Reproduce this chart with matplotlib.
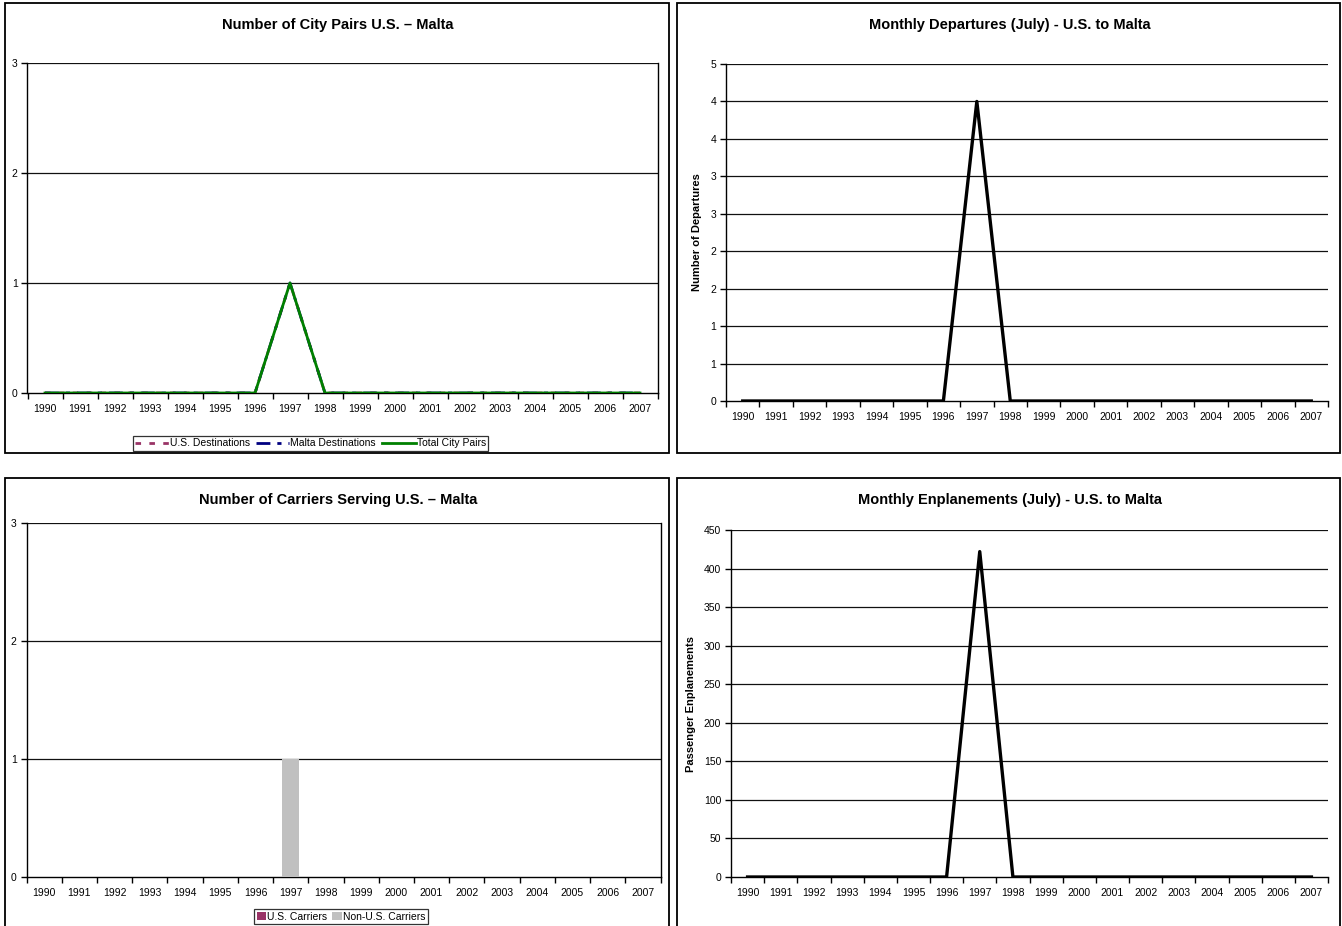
import math
import matplotlib
matplotlib.use("Agg")
import matplotlib.pyplot as plt
from matplotlib.patches import Rectangle
from matplotlib.ticker import FixedLocator, FuncFormatter

plt.rcParams['font.family'] = ['Liberation Sans', 'DejaVu Sans']

years = [str(y) for y in range(1990, 2008)]
us_destinations = [0, 0, 0, 0, 0, 0, 0, 1, 0, 0, 0, 0, 0, 0, 0, 0, 0, 0]
malta_destinations = [0, 0, 0, 0, 0, 0, 0, 1, 0, 0, 0, 0, 0, 0, 0, 0, 0, 0]
total_city_pairs = [0, 0, 0, 0, 0, 0, 0, 1, 0, 0, 0, 0, 0, 0, 0, 0, 0, 0]
departures = [0, 0, 0, 0, 0, 0, 0, 4, 0, 0, 0, 0, 0, 0, 0, 0, 0, 0]
us_carriers = [0, 0, 0, 0, 0, 0, 0, 0, 0, 0, 0, 0, 0, 0, 0, 0, 0, 0]
non_us_carriers = [0, 0, 0, 0, 0, 0, 0, 1, 0, 0, 0, 0, 0, 0, 0, 0, 0, 0]
enplanements = [0, 0, 0, 0, 0, 0, 0, 422, 0, 0, 0, 0, 0, 0, 0, 0, 0, 0]

W, H = 1342, 926
fig = plt.figure(figsize=(W / 100, H / 100), dpi=100)
fig.patch.set_facecolor('white')


def fx(x):
    return x / W


def fy(y):
    return 1 - y / H


def panel(x0, y0, x1, y1):
    fig.patches.append(Rectangle((fx(x0), fy(y1)), fx(x1) - fx(x0), fy(y0) - fy(y1),
                                 transform=fig.transFigure, fill=False,
                                 edgecolor='black', linewidth=1.3, zorder=0))


def make_axes(x0, y0, x1, y1):
    return fig.add_axes([fx(x0), fy(y1), fx(x1) - fx(x0), fy(y0) - fy(y1)])


def style(ax, ymax, ystep, right_spine=True, fmt=None):
    n = len(years)
    idx = list(range(n))
    ax.set_xlim(-0.5, n - 0.5)
    ax.set_ylim(0, ymax)
    ax.set_xticks(idx)
    ax.set_xticklabels(years, fontsize=7.5)
    ax.tick_params(axis='x', which='major', length=0, pad=8)
    ax.xaxis.set_minor_locator(FixedLocator([i - 0.5 for i in range(n + 1)]))
    ax.tick_params(axis='x', which='minor', length=4, width=1, direction='out')
    yt = []
    v = 0.0
    while v <= ymax + 1e-9:
        yt.append(v)
        v += ystep
    ax.set_yticks(yt)
    if fmt is not None:
        ax.yaxis.set_major_formatter(FuncFormatter(fmt))
    else:
        ax.yaxis.set_major_formatter(FuncFormatter(lambda v, p: f"{int(round(v))}"))
    ax.tick_params(axis='y', length=4, width=1, direction='out', labelsize=7.5, pad=3)
    for t in yt[1:]:
        ax.axhline(t, color='#111111', linewidth=0.9, zorder=0.5)
    ax.spines['top'].set_visible(False)
    ax.spines['right'].set_visible(right_spine)
    for s in ('left', 'bottom', 'right'):
        ax.spines[s].set_linewidth(1.0)
        ax.spines[s].set_color('black')
    ax.set_facecolor('white')


# panel frames
panel(5, 3, 669, 453)
panel(677, 3, 1340, 453)
panel(5, 478, 669, 940)
panel(677, 478, 1340, 940)

x = list(range(len(years)))

# --- Number of City Pairs ---
ax1 = make_axes(27.5, 63, 657.5, 393)
style(ax1, 3, 1)
h_us, = ax1.plot(x, us_destinations, color='#993366', linewidth=2, linestyle=(0, (2, 3)),
                 label='U.S. Destinations', zorder=3)
h_mt, = ax1.plot(x, malta_destinations, color='#000080', linewidth=2, linestyle=(0, (5, 2.5, 1.5, 2.5)),
                 label='Malta Destinations', zorder=4)
h_tot, = ax1.plot(x, total_city_pairs, color='#008000', linewidth=2, label='Total City Pairs', zorder=5)
fig.text(fx(338), fy(25), 'Number of City Pairs U.S. \u2013 Malta', ha='center', va='center',
         fontsize=10.5, fontweight='bold')
leg1 = fig.legend(handles=[h_us, h_mt, h_tot], loc='center', ncol=3,
                  bbox_to_anchor=(fx(310.5), fy(443.5)), fontsize=7.5, frameon=True,
                  fancybox=False, borderpad=0.25, handlelength=3.2, handletextpad=0.1,
                  columnspacing=0.6, borderaxespad=0)
leg1.get_frame().set_edgecolor('black')
leg1.get_frame().set_linewidth(0.9)

# --- Monthly Departures ---
ax2 = make_axes(726, 64, 1328, 401)
style(ax2, 4.5, 0.5, right_spine=False, fmt=lambda v, p: f"{int(math.floor(v + 0.5))}")
ax2.plot(x, departures, color='black', linewidth=2.4, zorder=3)
ax2.set_ylabel('Number of Departures', fontsize=8, fontweight='bold', labelpad=6)
fig.text(fx(1010), fy(25), 'Monthly Departures (July) - U.S. to Malta', ha='center', va='center',
         fontsize=10.5, fontweight='bold')

# --- Number of Carriers ---
ax3 = make_axes(26.5, 523, 660.5, 877)
style(ax3, 3, 1)
b_us = ax3.bar(x, us_carriers, width=0.47, color='#993366', label='U.S. Carriers', zorder=3)
b_non = ax3.bar(x, non_us_carriers, width=0.47, bottom=us_carriers, color='#C0C0C0',
                label='Non-U.S. Carriers', zorder=3)
fig.text(fx(338), fy(500), 'Number of Carriers Serving U.S. \u2013 Malta', ha='center', va='center',
         fontsize=10.5, fontweight='bold')
leg3 = fig.legend(handles=[b_us, b_non], loc='center', ncol=2,
                  bbox_to_anchor=(fx(341), fy(916.5)), fontsize=7.5, frameon=True,
                  fancybox=False, borderpad=0.25, handlelength=0.9, handleheight=0.9,
                  handletextpad=0.1, columnspacing=0.5, borderaxespad=0)
leg3.get_frame().set_edgecolor('black')
leg3.get_frame().set_linewidth(0.9)

# --- Monthly Enplanements ---
ax4 = make_axes(731, 530, 1328, 877)
style(ax4, 450, 50, right_spine=False)
ax4.plot(x, enplanements, color='black', linewidth=2.4, zorder=3)
ax4.set_ylabel('Passenger Enplanements', fontsize=8, fontweight='bold', labelpad=6)
fig.text(fx(1010), fy(500), 'Monthly Enplanements (July) - U.S. to Malta', ha='center', va='center',
         fontsize=10.5, fontweight='bold')

fig.savefig('out.png', dpi=100)
